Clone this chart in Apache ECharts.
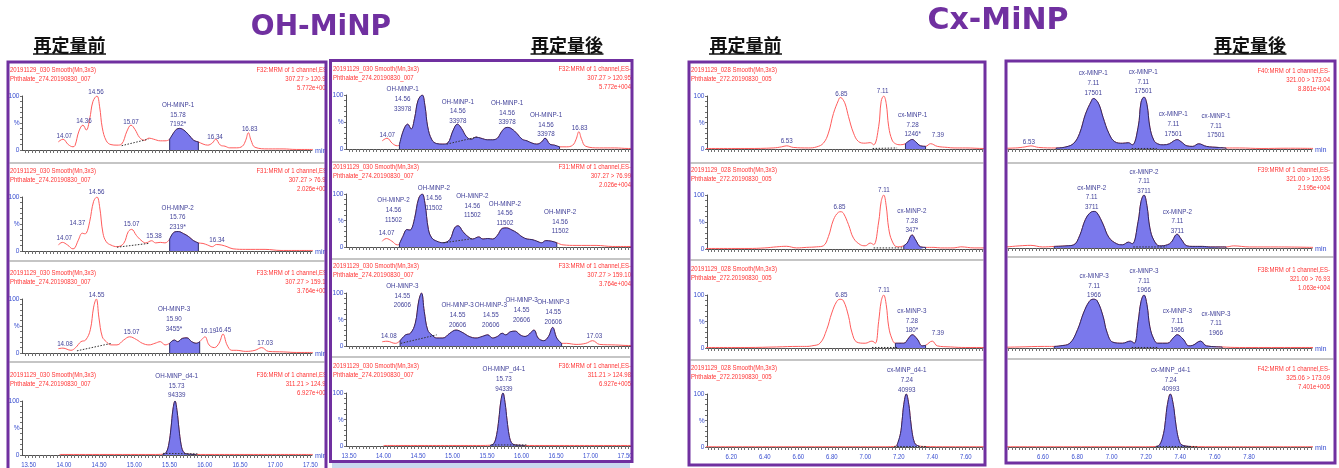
<!DOCTYPE html>
<html>
<head>
<meta charset="utf-8">
<script src="https://cdn.jsdelivr.net/npm/echarts@6/dist/echarts.min.js"></script>
<style>
html,body{margin:0;padding:0;background:#fff;}
#c{width:1339px;height:468px;}
</style>
</head>
<body>
<div id="c"></div>
<script>
// ---- chromatogram traces: [retention time (min), relative intensity (%)] ----
const ohTrace1 = [[13.98,15],[14.05,20],[14.13,10],[14.20,6],[14.23,8],[14.29,35],[14.35,46],[14.40,37],[14.45,57],[14.50,90],[14.56,100],[14.60,80],[14.64,41],[14.70,17],[14.77,10],[14.86,9],[14.93,11],[15.01,35],[15.07,46],[15.13,38],[15.20,23],[15.27,18],[15.34,22],[15.41,20],[15.51,17],[15.58,17],[15.65,20],[15.70,30],[15.75,38],[15.80,40],[15.86,37],[15.93,29],[16.01,18],[16.08,15],[16.15,11],[16.22,9],[16.29,13],[16.34,20],[16.41,9],[16.48,7],[16.55,4],[16.65,4],[16.74,7],[16.79,18],[16.83,32],[16.87,18],[16.93,5],[17.13,2],[17.35,2],[17.55,1],[17.80,1]];
const ohTrace2 = [[13.98,11],[14.04,16],[14.12,11],[14.20,4],[14.23,6],[14.28,20],[14.34,33],[14.37,32],[14.40,33],[14.45,54],[14.51,92],[14.56,100],[14.60,82],[14.65,33],[14.70,17],[14.77,11],[14.86,8],[14.96,14],[15.03,36],[15.08,40],[15.15,29],[15.22,20],[15.29,15],[15.38,19],[15.44,15],[15.51,16],[15.58,15],[15.65,22],[15.72,35],[15.78,36],[15.86,32],[15.93,27],[16.01,19],[16.08,15],[16.15,14],[16.22,11],[16.29,8],[16.35,12],[16.43,11],[16.51,8],[16.60,4],[16.79,3],[17.08,3],[17.32,1],[17.80,1]];
const ohTrace3 = [[13.98,8],[14.05,9],[14.17,5],[14.24,10],[14.32,21],[14.39,24],[14.46,43],[14.51,85],[14.55,100],[14.59,65],[14.64,30],[14.70,21],[14.77,15],[14.86,15],[14.96,24],[15.05,30],[15.15,25],[15.24,18],[15.34,15],[15.43,18],[15.51,21],[15.58,15],[15.65,18],[15.72,24],[15.77,21],[15.84,27],[15.91,28],[15.98,21],[16.05,18],[16.10,21],[16.13,25],[16.18,30],[16.24,15],[16.32,10],[16.39,18],[16.45,35],[16.51,15],[16.58,5],[16.65,5],[16.79,3],[16.93,5],[17.03,10],[17.13,3],[17.36,2],[17.55,1],[17.80,1]];
const ohTrace4 = [[14.00,1],[15.40,1],[15.55,1.5],[15.60,5],[15.64,22],[15.67,50],[15.70,85],[15.73,100],[15.76,82],[15.79,48],[15.82,20],[15.85,7],[15.89,2.5],[15.95,1.5],[16.05,1],[17.80,1]];

const cxTrace1 = [[6.00,1],[6.30,1],[6.45,2],[6.50,4],[6.53,6],[6.57,3],[6.66,2],[6.71,4],[6.75,11],[6.78,30],[6.81,67],[6.84,92],[6.85,97],[6.86,96],[6.88,85],[6.90,61],[6.93,30],[6.96,14],[7.00,11],[7.03,12],[7.05,8],[7.08,42],[7.095,90],[7.11,100],[7.125,86],[7.14,42],[7.16,17],[7.18,10],[7.21,8],[7.24,10],[7.26,15],[7.28,18],[7.30,14],[7.33,6],[7.36,5],[7.39,10],[7.43,5],[7.49,3],[7.53,2],[7.60,2],[7.71,1],[7.85,1.5],[8.00,1]];
const cxTrace2 = [[6.00,1],[6.30,1],[6.40,2],[6.47,4],[6.53,5],[6.59,2],[6.65,3],[6.71,4],[6.75,6],[6.78,23],[6.81,54],[6.84,68],[6.855,69],[6.87,66],[6.90,45],[6.93,20],[6.97,8],[7.00,6],[7.03,11],[7.05,8],[7.08,50],[7.095,88],[7.11,100],[7.125,80],[7.14,38],[7.16,15],[7.19,4],[7.23,6],[7.25,11],[7.28,26],[7.30,17],[7.33,4],[7.36,3],[7.41,3],[7.45,2],[7.53,2],[7.57,4],[7.65,2],[7.80,2],[8.00,1]];
const cxTrace3 = [[6.00,1],[6.30,1],[6.47,2],[6.60,3],[6.65,3],[6.68,4],[6.73,9],[6.77,35],[6.80,66],[6.83,88],[6.85,92],[6.87,89],[6.90,60],[6.92,30],[6.95,11],[7.00,9],[7.04,13],[7.06,9],[7.08,50],[7.095,88],[7.11,100],[7.125,82],[7.14,40],[7.16,17],[7.18,9],[7.23,9],[7.26,19],[7.28,25],[7.31,17],[7.34,4],[7.36,5],[7.40,13],[7.43,4],[7.51,2],[7.60,1],[8.00,1]];
const cxTrace4 = [[6.00,0.5],[7.10,0.5],[7.17,1],[7.19,4],[7.21,25],[7.22,50],[7.23,80],[7.245,100],[7.26,80],[7.27,52],[7.28,27],[7.29,12],[7.30,5],[7.32,2],[7.35,1],[7.50,0.5],[8.00,0.5]];

// ---- integrated (shaded) windows, [start, end] in minutes, one per trace ----
const ohBeforeAreas = [[15.65,16.08],[15.65,16.08],[15.65,16.10],[15.55,16.05]];
const ohAfterAreas  = [[14.23,16.55],[14.23,16.51],[14.24,16.58],[15.55,16.05]];
const cxBeforeAreas = [[7.24,7.36],[7.23,7.36],[7.18,7.36],[7.19,7.32]];
const cxAfterAreas  = [[6.66,7.53],[6.65,7.53],[6.65,7.51],[7.17,7.35]];

// ---- drawn integration baselines: [[t0, %0], [t1, %1]] ----
const ohBeforeBase = [[[14.93,8],[15.33,20]],[[14.86,7],[15.33,14]],[[14.26,4],[14.78,18]],[[15.55,3],[16.08,2]]];
const ohAfterBase  = [[[14.915,9],[15.35,22]],[[14.87,8],[15.30,16]],[[14.25,5],[14.77,21]],[[15.57,2],[16.07,2]]];
const cxBeforeBase = [[[7.044,1],[7.19,2]],[[7.05,2],[7.23,2]],[[7.04,1],[7.19,1]],[[7.173,1],[7.366,1]]];
const cxAfterBase  = [[[7.047,1],[7.175,1]],[[7.055,2],[7.226,2]],[[7.047,1],[7.18,1]],[[7.175,1],[7.38,1]]];

// ---- peak annotations: [time, intensity %, text] ----
const ohBeforeNotes = [
  [[14.07,16.7,'14.07'],[14.365,44.4,'14.36'],[14.545,98,'14.56'],[15.07,44,'15.07'],[15.775,39,'OH-MiNP-1\n15.78\n7192*'],[16.33,15,'16.34'],[16.85,30,'16.83']],
  [[14.07,15.4,'14.07'],[14.265,43.9,'14.37'],[14.555,100.5,'14.56'],[15.08,40.7,'15.07'],[15.415,18.5,'15.38'],[15.77,35.7,'OH-MiNP-2\n15.76\n2319*'],[16.36,11.1,'16.34']],
  [[14.08,8.7,'14.08'],[14.555,98,'14.55'],[15.08,30.2,'15.07'],[15.715,36.5,'OH-MiNP-3\n15.90\n3455*'],[16.23,32,'16.19'],[16.455,34.6,'16.45'],[17.08,10.6,'17.03']],
  [[15.755,101.9,'OH-MiNP_d4-1\n15.73\n94339']]
];
const ohAfterNotes = [
  [[14.054,16.7,'14.07'],[14.277,66,'OH-MiNP-1\n14.56\n33978'],[15.077,43,'OH-MiNP-1\n14.56\n33978'],[15.79,40.7,'OH-MiNP-1\n14.56\n33978'],[16.354,18.5,'OH-MiNP-1\n14.56\n33978'],[16.84,31,'16.83']],
  [[14.044,17.5,'14.07'],[14.144,42.8,'OH-MiNP-2\n14.56\n11502'],[14.73,65.5,'OH-MiNP-2\n14.56\n11502'],[15.287,51,'OH-MiNP-2\n14.56\n11502'],[15.759,36.4,'OH-MiNP-2\n14.56\n11502'],[16.559,20.8,'OH-MiNP-2\n14.56\n11502']],
  [[14.077,9.4,'14.08'],[14.273,67.9,'OH-MiNP-3\n14.55\n20606'],[15.073,31.5,'OH-MiNP-3\n14.55\n20606'],[15.554,31.5,'OH-MiNP-3\n14.55\n20606'],[16.0,40.9,'OH-MiNP-3\n14.55\n20606'],[16.459,36.8,'OH-MiNP-3\n14.55\n20606'],[17.054,9.4,'17.03']],
  [[15.744,99.4,'OH-MiNP_d4-1\n15.73\n94339']]
];
const cxBeforeNotes = [
  [[6.531,5.7,'6.53'],[6.857,95.7,'6.85'],[7.104,100.6,'7.11'],[7.283,18.9,'cx-MiNP-1\n7.28\n1246*'],[7.433,17,'7.39']],
  [[6.846,69,'6.85'],[7.111,100,'7.11'],[7.278,25.9,'cx-MiNP-2\n7.28\n347*']],
  [[6.857,90.6,'6.85'],[7.111,101,'7.11'],[7.278,24.5,'cx-MiNP-3\n7.28\n180*'],[7.433,19.4,'7.39']],
  [[7.248,99.4,'cx-MiNP_d4-1\n7.24\n40993']]
];
const cxAfterNotes = [
  [[6.52,4.4,'6.53'],[6.85,99.4,'cx-MiNP-1\n7.11\n17501'],[7.106,102,'cx-MiNP-1\n7.11\n17501'],[7.26,20.6,'cx-MiNP-1\n7.11\n17501'],[7.479,17.3,'cx-MiNP-1\n7.11\n17501']],
  [[6.842,68.5,'cx-MiNP-2\n7.11\n3711'],[7.11,98.7,'cx-MiNP-2\n7.11\n3711'],[7.281,23.2,'cx-MiNP-2\n7.11\n3711']],
  [[6.854,90.6,'cx-MiNP-3\n7.11\n1966'],[7.11,100,'cx-MiNP-3\n7.11\n1966'],[7.281,24.5,'cx-MiNP-3\n7.11\n1966'],[7.479,19.4,'cx-MiNP-3\n7.11\n1966']],
  [[7.247,100,'cx-MiNP_d4-1\n7.24\n40993']]
];

// ---- axis tick labels ----
const ohTicks = [13.5,14.0,14.5,15.0,15.5,16.0,16.5,17.0,17.5];
const cxBeforeTicks = [6.2,6.4,6.6,6.8,7.0,7.2,7.4,7.6];
const cxAfterTicks = [6.6,6.8,7.0,7.2,7.4,7.6,7.8];
const yTicks = [0,50,100];

// ---- header texts ----
const ohHeadLeft = ['20191129_030 Smooth(Mn,3x3)','Phthalate_274.20190830_007'];
const ohHeadRight = [
  ['F32:MRM of 1 channel,ES-','307.27 > 120.95','5.772e+004'],
  ['F31:MRM of 1 channel,ES-','307.27 > 76.99','2.026e+004'],
  ['F33:MRM of 1 channel,ES-','307.27 > 159.10','3.764e+004'],
  ['F36:MRM of 1 channel,ES-','311.21 > 124.98','6.927e+005']
];
const cxHeadLeft = ['20191129_028 Smooth(Mn,3x3)','Phthalate_272.20190830_005'];
const cxHeadRight = [
  ['F40:MRM of 1 channel,ES-','321.00 > 173.04','8.861e+004'],
  ['F39:MRM of 1 channel,ES-','321.00 > 120.95','2.195e+004'],
  ['F38:MRM of 1 channel,ES-','321.00 > 76.93','1.063e+004'],
  ['F42:MRM of 1 channel,ES-','325.06 > 173.09','7.401e+005']
];

// ---- layout ----
const SANS = "'Liberation Sans',Arial,sans-serif";
const JP = "'Noto Sans CJK JP','Noto Sans CJK SC',sans-serif";
const PURPLE = '#7030a0';
const RED_TXT = '#ff3535';
const BLUE_TXT = '#3a4fd0';
const NOTE_TXT = '#3f3f98';
const EDGE = '#2a2a66';

const panels = [
  { left: 22, right: 312, axisY: [150,251,353,455], plotH: [54,54,54,54],
    data: [13.436,17.784], shown: [13.405,17.522], step: 0.05, ticks: ohTicks,
    traces: [ohTrace1,ohTrace2,ohTrace3,ohTrace4], areas: ohBeforeAreas, base: ohBeforeBase, notes: ohBeforeNotes,
    yAxis: true, headLeft: ohHeadLeft, headLeftX: 10, headRight: ohHeadRight, headRightX: 329, headDy: -80, minText: true },
  { left: 346, right: 632, axisY: [149,247,346,446], plotH: [54,53,53,53],
    data: [13.456,17.60], shown: [13.456,17.60], step: 0.05, ticks: ohTicks,
    traces: [ohTrace1,ohTrace2,ohTrace3,ohTrace4], areas: ohAfterAreas, base: ohAfterBase, notes: ohAfterNotes,
    yAxis: true, headLeft: ohHeadLeft, headLeftX: 333, headRight: ohHeadRight, headRightX: 631, headDy: -80, minText: false },
  { left: 707, right: 983, axisY: [149,249,348,447], plotH: [53,54,53,53],
    data: [6.055,7.703], shown: [6.055,7.703], step: 0.02, ticks: cxBeforeTicks,
    traces: [cxTrace1,cxTrace2,cxTrace3,cxTrace4], areas: cxBeforeAreas, base: cxBeforeBase, notes: cxBeforeNotes,
    yAxis: true, headLeft: cxHeadLeft, headLeftX: 691, headRight: null, headDy: -79, minText: false },
  { left: 1008, right: 1312, axisY: [149,248,348,447], plotH: [52,53,53,53],
    data: [6.413,7.971], shown: [6.397,8.166], step: 0.02, ticks: cxAfterTicks,
    traces: [cxTrace1,cxTrace2,cxTrace3,cxTrace4], areas: cxAfterAreas, base: cxAfterBase, notes: cxAfterNotes,
    yAxis: false, headLeft: null, headRight: cxHeadRight, headRightX: 1330, headDy: -78, minText: true }
];

function tickList(lo, hi, step) {
  const out = [];
  for (let k = Math.ceil(lo / step - 1e-6); k * step <= hi + 1e-9; k++) out.push(+(k * step).toFixed(3));
  return out;
}
function valueAt(trace, t) {
  const hit = trace.find(d => Math.abs(d[0] - t) < 1e-9);
  return hit ? hit[1] : 0;
}
function txt(x, y, s, o) {
  return { type: 'text', x: x, y: y, z: o.z || 20, silent: true, scaleX: o.sx || 1,
    style: { text: s, fill: o.color, fontSize: o.size, fontFamily: o.family || SANS,
      fontWeight: o.weight || 'normal', align: o.align || 'left', verticalAlign: o.va || 'middle',
      lineHeight: o.lh || undefined } };
}

const grid = [], xAxis = [], yAxis = [], series = [], cells = [];

panels.forEach((p) => {
  const minor = tickList(p.shown[0], p.shown[1], p.step);
  p.axisY.forEach((ay, r) => {
    const gi = grid.length;
    grid.push({ left: p.left, top: ay - p.plotH[r], width: p.right - p.left, height: p.plotH[r] });
    // data scale (hidden)
    xAxis.push({ type: 'value', gridIndex: gi, min: p.data[0], max: p.data[1], show: false });
    // printed time scale
    xAxis.push({ type: 'value', gridIndex: gi, min: p.shown[0], max: p.shown[1], position: 'bottom',
      axisLine: { show: true, onZero: false, lineStyle: { color: '#505050', width: 1 } },
      axisTick: { show: true, customValues: minor, length: 3, lineStyle: { color: '#707070', width: 1 } },
      axisLabel: { show: false }, splitLine: { show: false } });
    yAxis.push({ type: 'value', gridIndex: gi, min: 0, max: 100, show: p.yAxis,
      axisLine: { show: true, lineStyle: { color: '#505050', width: 1 } },
      axisTick: { show: true, customValues: [0,10,20,30,40,50,60,70,80,90,100], length: 2, lineStyle: { color: '#707070' } },
      axisLabel: { show: false }, splitLine: { show: false } });

    const trace = p.traces[r];
    const a = p.areas[r];
    const si = series.length;
    const common = { xAxisIndex: 2 * gi, yAxisIndex: gi, showSymbol: false, clip: true, silent: true };
    series.push(Object.assign({ type: 'line', data: trace, smooth: 0.4, z: 2,
      lineStyle: { color: '#ff5c5c', width: 1 } }, common));
    series.push(Object.assign({ type: 'line',
      data: trace.filter(d => d[0] >= a[0] - 1e-9 && d[0] <= a[1] + 1e-9),
      smooth: 0.4, z: 3, lineStyle: { color: EDGE, width: 1 },
      areaStyle: { color: '#7a78ec', opacity: 1 } }, common));
    // vertical ends of the integrated window
    series.push(Object.assign({ type: 'line', data: [[a[0], 0], [a[0], valueAt(trace, a[0])]], z: 4,
      lineStyle: { color: EDGE, width: 1 } }, common));
    series.push(Object.assign({ type: 'line', data: [[a[1], 0], [a[1], valueAt(trace, a[1])]], z: 4,
      lineStyle: { color: EDGE, width: 1 } }, common));
    series.push(Object.assign({ type: 'line', data: p.base[r], z: 4,
      lineStyle: { color: '#303030', width: 1, type: [1.5, 1.5] } }, common));
    cells.push({ p, r, gi, si, ay });
  });
});

const chart = echarts.init(document.getElementById('c'), null, { renderer: 'canvas' });
chart.setOption({ animation: false, backgroundColor: '#fff', grid, xAxis, yAxis, series });

const graphic = [];
cells.forEach(({ p, r, gi, si, ay }) => {
  // peak annotations, anchored to the trace's own coordinates
  p.notes[r].forEach(n => {
    const pt = chart.convertToPixel({ seriesIndex: si }, [n[0], n[1]]);
    graphic.push(txt(pt[0], pt[1], n[2], { color: NOTE_TXT, size: 8, align: 'center', va: 'bottom', lh: 9.7, sx: 0.78, z: 25 }));
  });
  // time labels under the bottom trace
  if (r === 3) p.ticks.forEach(v => {
    const x = chart.convertToPixel({ xAxisIndex: 2 * gi + 1 }, v);
    graphic.push(txt(x, ay + 9.5, v.toFixed(2), { color: BLUE_TXT, size: 8, align: 'center', sx: 0.75 }));
  });
  // intensity labels
  if (p.yAxis) yTicks.forEach(v => {
    const y = chart.convertToPixel({ yAxisIndex: gi }, v);
    graphic.push(txt(p.left - 2.5, y, v === 50 ? '%' : String(v), { color: BLUE_TXT, size: 7.5, align: 'right', sx: 0.88 }));
  });
  if (p.headLeft) p.headLeft.forEach((s, j) =>
    graphic.push(txt(p.headLeftX, ay + p.headDy + j * 9, s, { color: RED_TXT, size: 7, sx: 0.86 })));
  if (p.headRight) p.headRight[r].forEach((s, j) =>
    graphic.push(txt(p.headRightX, ay + p.headDy + j * 9, s, { color: RED_TXT, size: 7, align: 'right', sx: 0.86 })));
  if (p.minText) graphic.push(txt(p.right + 3, ay + 1, 'min', { color: BLUE_TXT, size: 8, sx: 0.9 }));
});

// panel frames, row dividers and masks
const frames = [[8,62,318,420],[330.5,60.5,301.5,401],[689,62,296,403],[1006,61,329,402]];
const dividers = [[9.5,324.5,[163,261,362]],[332,630,[162,259,357]],[690.5,983.5,[163,260,360]],[1007.5,1333.5,[163,257,359]]];
graphic.push({ type: 'rect', z: 45, silent: true, shape: { x: 326.5, y: 55, width: 3, height: 413 }, style: { fill: '#fff' } });
graphic.push({ type: 'rect', z: 45, silent: true, shape: { x: 986.5, y: 55, width: 18, height: 413 }, style: { fill: '#fff' } });
graphic.push({ type: 'rect', z: 45, silent: true, shape: { x: 1336.5, y: 55, width: 3, height: 413 }, style: { fill: '#fff' } });
graphic.push({ type: 'rect', z: 46, silent: true, shape: { x: 332, y: 463, width: 298, height: 5 }, style: { fill: '#c9d8ee' } });
dividers.forEach(d => d[2].forEach(y =>
  graphic.push({ type: 'line', z: 40, silent: true, shape: { x1: d[0], y1: y, x2: d[1], y2: y }, style: { stroke: '#b2b2b2', lineWidth: 1.5 } })));
frames.forEach(f =>
  graphic.push({ type: 'rect', z: 50, silent: true, shape: { x: f[0], y: f[1], width: f[2], height: f[3] }, style: { fill: 'none', stroke: PURPLE, lineWidth: 3 } }));

// titles
graphic.push(txt(321, 28, 'OH-MiNP', { color: PURPLE, size: 28, family: "'DejaVu Sans',sans-serif", weight: 'bold', align: 'center', z: 60 }));
graphic.push(txt(998, 21, 'Cx-MiNP', { color: PURPLE, size: 30, family: "'DejaVu Sans',sans-serif", weight: 'bold', align: 'center', z: 60 }));
[[69.5,'再定量前'],[567,'再定量後'],[745.5,'再定量前'],[1250,'再定量後']].forEach(h => {
  graphic.push(txt(h[0], 45, h[1], { color: '#111', size: 18, family: JP, weight: 'bold', align: 'center', z: 60 }));
  graphic.push({ type: 'line', z: 60, silent: true, shape: { x1: h[0] - 36.5, y1: 54, x2: h[0] + 36.5, y2: 54 }, style: { stroke: '#111', lineWidth: 1.5 } });
});

chart.setOption({ graphic });
</script>
</body>
</html>
